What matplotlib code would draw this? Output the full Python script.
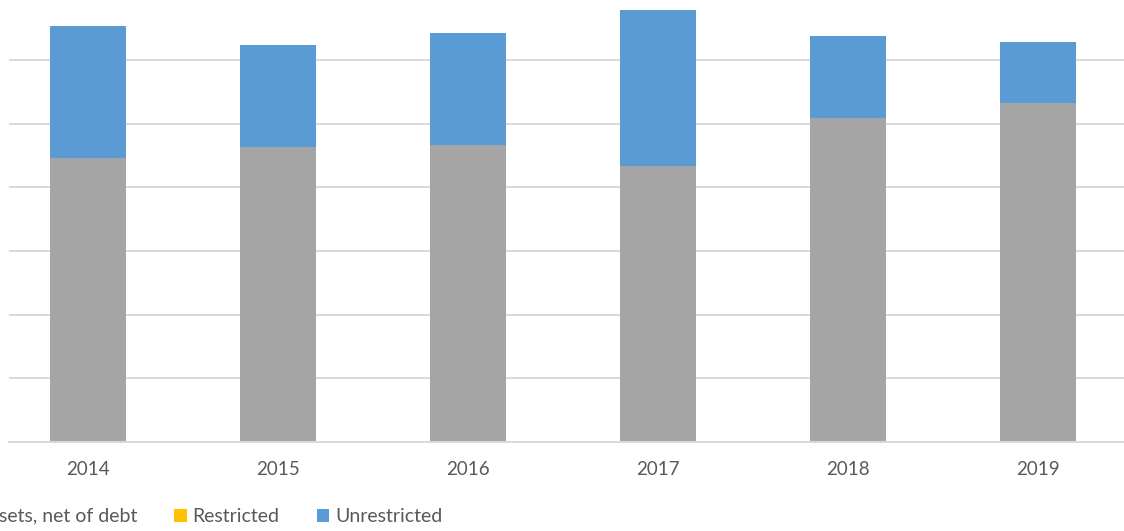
import matplotlib.pyplot as plt
import numpy as np

# data (one unit = one gridline step)
years = ['2014', '2015', '2016', '2017', '2018', '2019']
capital = [4.46, 4.64, 4.67, 4.34, 5.09, 5.32]
restricted = [0, 0, 0, 0, 0, 0]
unrestricted = [2.08, 1.60, 1.76, 2.45, 1.29, 0.96]

labels = ['Invested in capital assets, net of debt', 'Restricted', 'Unrestricted']
colors = ['#A5A5A5', '#FFC000', '#5B9BD5']

plt.rcParams['font.family'] = ['Lato', 'DejaVu Sans']

fig = plt.figure(figsize=(11.24, 5.31), dpi=100)
ax = fig.add_axes([9 / 1124, (531 - 441.7) / 531, 1 - 9 / 1124, 441.7 / 531])

x = np.arange(len(years))
w = 0.4
b1 = ax.bar(x, capital, w, color=colors[0], label=labels[0], zorder=2)
b2 = ax.bar(x, restricted, w, bottom=capital, color=colors[1], label=labels[1], zorder=2)
bottom2 = np.array(capital) + np.array(restricted)
b3 = ax.bar(x, unrestricted, w, bottom=bottom2, color=colors[2], label=labels[2], zorder=2)

ax.set_xlim((9 - 88) / 190, (1124 - 88) / 190)
ax.set_ylim(0, 441.7 / 63.6)
ax.set_yticks(np.arange(0, 7, 1))
ax.yaxis.grid(True, color='#D9D9D9', linewidth=1.4)
ax.set_axisbelow(True)
ax.tick_params(axis='y', left=False, labelleft=False)
ax.tick_params(axis='x', length=0, pad=14, labelsize=13.5, colors='#595959')
ax.set_xticks(x)
ax.set_xticklabels(years)
for s in ['top', 'right', 'left']:
    ax.spines[s].set_visible(False)
ax.spines['bottom'].set_color('#D9D9D9')
ax.spines['bottom'].set_linewidth(1.4)

leg = fig.legend(handles=[b1, b2, b3], loc='center right',
                 bbox_to_anchor=(452 / 1124, (531 - 516.7) / 531),
                 ncol=3, frameon=False, fontsize=14, borderpad=0,
                 handlelength=0.65, handleheight=0.65, handletextpad=0.3,
                 columnspacing=1.9, labelcolor='#595959')

plt.savefig('out.png', dpi=100)
